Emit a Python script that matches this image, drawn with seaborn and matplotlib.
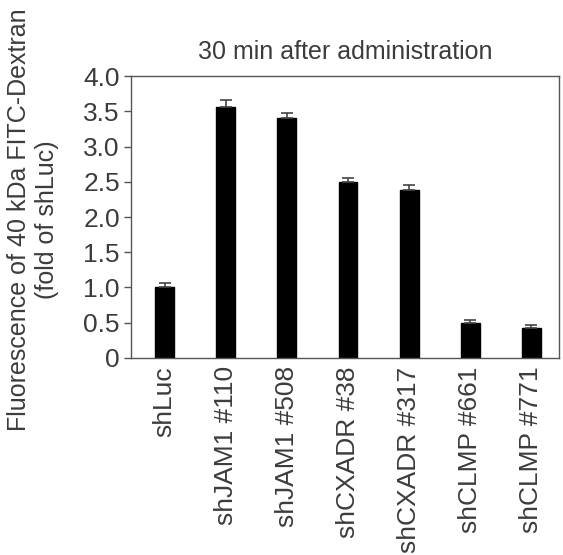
import matplotlib
matplotlib.use("Agg")
import matplotlib.pyplot as plt
import seaborn as sns
import numpy as np
import pandas as pd

categories = ["shLuc", "shJAM1 #110", "shJAM1 #508", "shCXADR #38",
              "shCXADR #317", "shCLMP #661", "shCLMP #771"]
values = [1.00, 3.56, 3.40, 2.49, 2.38, 0.50, 0.43]
errors = [0.07, 0.10, 0.08, 0.07, 0.07, 0.04, 0.04]
yticks = [0, 0.5, 1.0, 1.5, 2.0, 2.5, 3.0, 3.5, 4.0]
ytick_labels = ["0", "0.5", "1.0", "1.5", "2.0", "2.5", "3.0", "3.5", "4.0"]

sns.set_style("white")
plt.rcParams['font.family'] = ['Liberation Sans', 'DejaVu Sans']
text_color = "#3c3c3c"

fig = plt.figure(figsize=(5.63, 5.55), dpi=100)
ax = fig.add_axes([0.2327, 0.355, 0.760, 0.508])

df = pd.DataFrame({"cat": categories, "val": values})
sns.barplot(data=df, x="cat", y="val", color="black", width=0.31,
            saturation=1, ax=ax, errorbar=None)
for p in ax.patches:
    p.set_edgecolor("black")
ax.errorbar(np.arange(len(values)), values,
            yerr=[np.zeros(len(errors)), errors], fmt="none",
            ecolor="#444444", elinewidth=1.2, capsize=4, capthick=1.2)

ax.set_ylim(0, 4.0)
ax.set_xlim(-0.55, 6.45)
ax.set_yticks(yticks)
ax.set_yticklabels(ytick_labels, fontsize=19, color=text_color)
ax.set_xticks(range(len(categories)))
ax.set_xticklabels(categories, rotation=90, fontsize=19, color=text_color)
ax.tick_params(axis="y", length=5, width=1, color="#555555", pad=3, left=True)
ax.tick_params(axis="x", length=0, pad=6)

for s in ax.spines.values():
    s.set_visible(True)
    s.set_color("#555555")
    s.set_linewidth(1.0)

ax.set_xlabel("")
ax.set_ylabel("Fluorescence of 40 kDa FITC-Dextran\n(fold of shLuc)",
              fontsize=18, color=text_color, linespacing=1.2)
ax.yaxis.set_label_coords(-0.168, 0.49)
ax.set_title("30 min after administration", fontsize=18,
             color=text_color, pad=12)

fig.savefig("out.png", dpi=100)
